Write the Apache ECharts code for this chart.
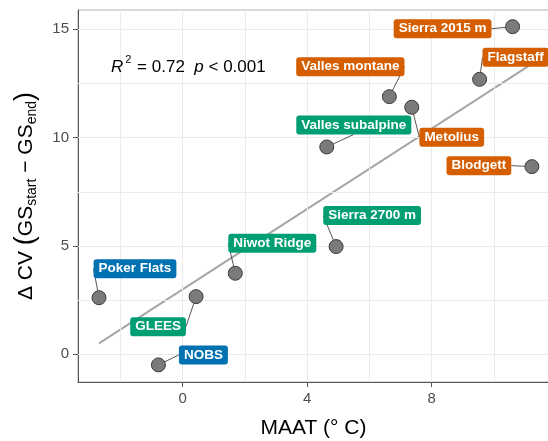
<!DOCTYPE html>
<html>
<head>
<meta charset="utf-8">
<script src="https://cdn.jsdelivr.net/npm/echarts@6/dist/echarts.min.js"></script>
<style>
  html, body { margin: 0; padding: 0; background: #fff; }
  #main { width: 548px; height: 441px; }
</style>
</head>
<body>
<div id="main"></div>
<script>
// site data
var sites = ['Poker Flats', 'GLEES', 'NOBS', 'Niwot Ridge', 'Sierra 2700 m', 'Valles subalpine',
  'Valles montane', 'Metolius', 'Flagstaff', 'Sierra 2015 m', 'Blodgett'];
var maat = [-2.69, 0.43, -0.78, 1.69, 4.93, 4.63, 6.64, 7.36, 9.54, 10.6, 11.22];
var dcv = [2.61, 2.66, -0.49, 3.74, 4.97, 9.57, 11.89, 11.4, 12.69, 15.12, 8.66];
var group = ['blue', 'green', 'blue', 'green', 'green', 'green', 'orange', 'orange', 'orange', 'orange', 'orange'];
// fitted line ends
var fitX = [-2.69, 11.22];
var fitY = [0.5, 13.4];
var xTicks = [0, 4, 8];
var yTicks = [0, 5, 10, 15];
var xMinor = [-2, 2, 6, 10];
var yMinor = [2.5, 7.5, 12.5];

// label offsets (px) from each point, like the repelled labels
var labelShift = [[36, -29], [-38, 30], [45, -10], [37, -30], [36, -31], [27, -22],
  [-39, -30], [40, 30], [36, -22], [-70, 2], [-53, -1]];
var palette = { blue: '#0072B2', green: '#009E73', orange: '#D55E00' };

var FONT = 'Liberation Sans, Arial, sans-serif';
var chart = echarts.init(document.getElementById('main'));

var pts = sites.map(function (s, i) {
  return {
    name: s,
    value: [maat[i], dcv[i]],
    label: { backgroundColor: palette[group[i]] }
  };
});

var gridLines = [];
xTicks.concat(xMinor).forEach(function (v) { gridLines.push({ xAxis: v }); });
yTicks.concat(yMinor).forEach(function (v) { gridLines.push({ yAxis: v }); });

var option = {
  animation: false,
  textStyle: { fontFamily: FONT },
  grid: {
    left: 78, top: 10, right: -1, bottom: 59,
    outerBoundsMode: 'none',
    show: true, borderColor: '#b3b3b3', borderWidth: 1
  },
  xAxis: {
    type: 'value',
    min: -3.364, max: 11.77,
    splitLine: { show: false },
    axisLine: { onZero: false, lineStyle: { color: '#555', width: 1 } },
    axisTick: { show: true, length: 5, customValues: xTicks, lineStyle: { color: '#555' } },
    axisLabel: { customValues: xTicks, color: '#4d4d4d', fontSize: 15, margin: 9, fontFamily: FONT },
    name: 'MAAT (° C)',
    nameLocation: 'middle',
    nameGap: 36,
    nameTextStyle: { fontSize: 21, color: '#000', fontFamily: FONT }
  },
  yAxis: {
    type: 'value',
    min: -1.28, max: 15.89,
    splitLine: { show: false },
    axisLine: { show: true, onZero: false, lineStyle: { color: '#555', width: 1 } },
    axisTick: { show: true, length: 5, customValues: yTicks, lineStyle: { color: '#555' } },
    axisLabel: { customValues: yTicks, color: '#4d4d4d', fontSize: 15, margin: 9, fontFamily: FONT },
    name: '{t|Δ CV }{p|(}{t|GS}{sub|start}{t| − GS}{sub|end}{p|)}',
    nameLocation: 'middle',
    nameGap: 37,
    nameTextStyle: {
      color: '#000',
      rich: {
        t: { fontSize: 21, fontFamily: FONT, lineHeight: 30, verticalAlign: 'middle' },
        p: { fontSize: 27, fontFamily: FONT, lineHeight: 30, verticalAlign: 'middle' },
        sub: { fontSize: 14, fontFamily: FONT, lineHeight: 30, verticalAlign: 'bottom', padding: [0, 0, 2, 0] }
      }
    }
  },
  graphic: [{
    type: 'text',
    z: 100,
    left: 111, top: 54,
    style: {
      text: '{i|R}{sup|2}{n| = 0.72  }{i|p}{n| < 0.001}',
      rich: {
        i: { fontSize: 17, fontStyle: 'italic', fontFamily: FONT, lineHeight: 22, verticalAlign: 'bottom', fill: '#000' },
        n: { fontSize: 17, fontFamily: FONT, lineHeight: 22, verticalAlign: 'bottom', fill: '#000' },
        sup: { fontSize: 11, fontFamily: FONT, lineHeight: 22, verticalAlign: 'top', padding: [0, 1, 0, 2], fill: '#000' }
      }
    }
  }],
  series: [
    {
      type: 'line',
      z: 1,
      silent: true,
      symbol: 'none',
      data: [[fitX[0], fitY[0]], [fitX[1], fitY[1]]],
      lineStyle: { opacity: 0 },
      markLine: {
        silent: true,
        symbol: 'none',
        label: { show: false },
        lineStyle: { color: '#ebebeb', width: 1, type: 'solid', opacity: 1 },
        data: gridLines
      }
    },
    {
      type: 'line',
      z: 3,
      silent: true,
      symbol: 'none',
      data: [[fitX[0], fitY[0]], [fitX[1], fitY[1]]],
      lineStyle: { color: '#a6a6a6', width: 2 }
    },
    {
      type: 'scatter',
      z: 5,
      symbolSize: 14,
      itemStyle: { color: '#7a7a7a', borderColor: '#3a3a3a', borderWidth: 1, opacity: 1 },
      data: pts,
      label: {
        show: true,
        position: 'inside',
        formatter: '{b}',
        color: '#fff',
        fontWeight: 'bold',
        fontSize: 13.5,
        fontFamily: FONT,
        padding: [3, 5, 2, 5],
        borderRadius: 3
      },
      labelLine: {
        show: true,
        lineStyle: { color: '#555', width: 1 }
      },
      labelLayout: function (p) {
        var s = labelShift[p.dataIndex];
        return { dx: s[0], dy: s[1] };
      }
    }
  ]
};

chart.setOption(option);
</script>
</body>
</html>
